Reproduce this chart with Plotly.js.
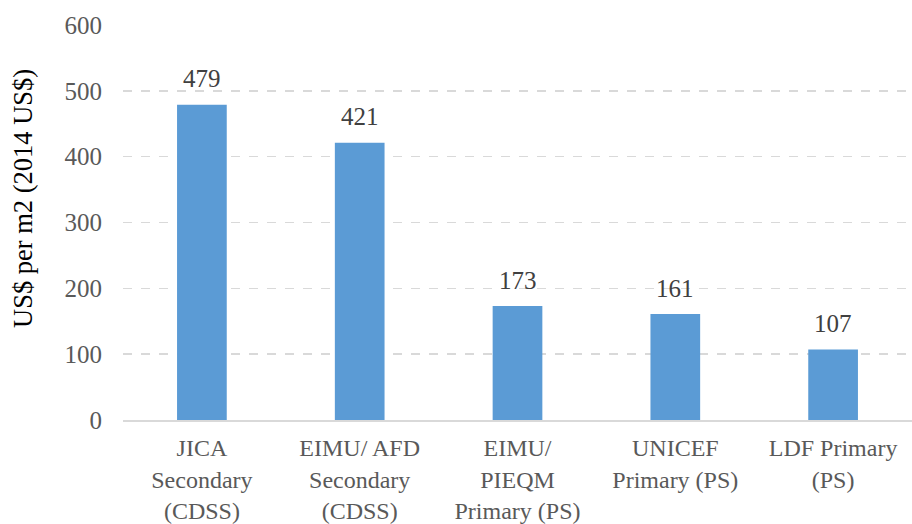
<!DOCTYPE html>
<html>
<head>
<meta charset="utf-8">
<script src="https://cdn.plot.ly/plotly-3.0.1.min.js"></script>
<style>html,body{margin:0;padding:0;background:#fff;}#chart{width:912px;height:524px;}</style>
</head>
<body>
<div id="chart"></div>
<script>
const categories = ["JICA<br>Secondary<br>(CDSS)", "EIMU/ AFD<br>Secondary<br>(CDSS)", "EIMU/<br>PIEQM<br>Primary (PS)", "UNICEF<br>Primary (PS)", "LDF Primary<br>(PS)"];
const values = [479, 421, 173, 161, 107];
const yTicks = [0, 100, 200, 300, 400, 500, 600];
const yTitle = "US$ per m2 (2014 US$)";

const font = "'Liberation Serif', 'Times New Roman', serif";

const trace = {
  type: "bar",
  x: categories,
  y: values,
  marker: { color: "#5B9BD5" },
  hoverinfo: "none"
};

const annotations = values.map((v, i) => ({
  x: categories[i],
  y: v,
  text: String(v),
  showarrow: false,
  yanchor: "middle",
  yshift: 26,
  font: { family: font, size: 25, color: "#404040" }
}));

annotations.push({
  xref: "paper",
  yref: "paper",
  x: (23 - 123) / 789,
  y: (420 - 198) / 395,
  xanchor: "center",
  yanchor: "middle",
  textangle: -90,
  text: yTitle,
  showarrow: false,
  font: { family: font, size: 26.5, color: "#000000" }
});

const layout = {
  width: 912,
  height: 524,
  margin: { l: 123, r: 0, t: 25, b: 104 },
  paper_bgcolor: "#ffffff",
  plot_bgcolor: "#ffffff",
  showlegend: false,
  bargap: 0.685,
  font: { family: font, size: 25, color: "#595959" },
  xaxis: {
    type: "category",
    showgrid: false,
    showline: true,
    linecolor: "#d9d9d9",
    linewidth: 1.5,
    ticks: "",
    ticklabelstandoff: 6,
    tickfont: { family: font, size: 24, color: "#595959" },
    fixedrange: true
  },
  yaxis: {
    range: [0, 600],
    tickvals: yTicks,
    ticktext: yTicks.map(String),
    showgrid: true,
    gridcolor: "#d9d9d9",
    gridwidth: 1.5,
    griddash: "dash",
    zeroline: false,
    showline: false,
    ticks: "",
    ticklabelstandoff: 20,
    tickfont: { family: font, size: 25, color: "#595959" },
    fixedrange: true
  },
  annotations: annotations
};

Plotly.newPlot("chart", [trace], layout, { displayModeBar: false, staticPlot: true });
</script>
</body>
</html>
